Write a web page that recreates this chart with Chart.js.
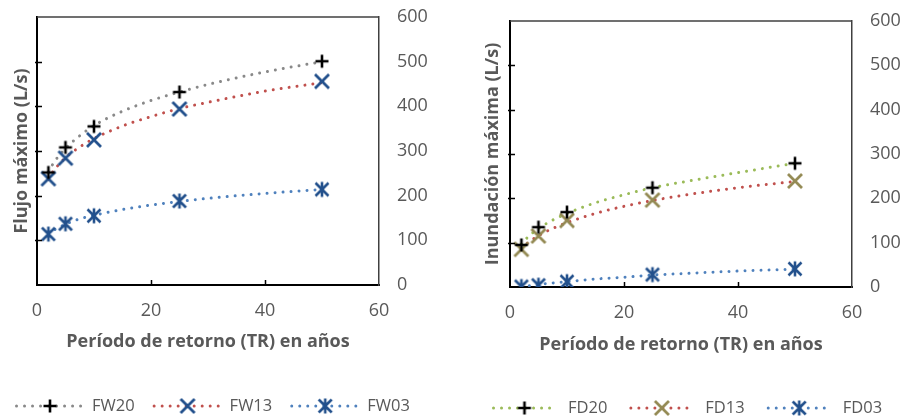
<!DOCTYPE html>
<html>
<head>
<meta charset="utf-8">
<script src="https://cdn.jsdelivr.net/npm/chart.js@4.4.1/dist/chart.umd.min.js"></script>
<style>
html, body { margin: 0; padding: 0; background: #fff; }
#wrap { position: relative; width: 901px; height: 419px; }
.box { position: absolute; top: 0; height: 419px; }
</style>
</head>
<body>
<div id="wrap">
  <div class="box" style="left:0;width:450px"><canvas id="flujo" width="450" height="419"></canvas></div>
  <div class="box" style="left:450px;width:451px"><canvas id="inundacion" width="451" height="419"></canvas></div>
</div>
<script>
const returnPeriods = [2, 5, 10, 25, 50];
const fw20 = [252, 308, 355, 432, 501];
const fw13 = [238, 284, 325, 394, 456];
const fw03 = [114, 137, 155, 188, 214];
const fd20 = [95, 135, 169, 224, 279];
const fd13 = [85, 115, 150, 196, 239];
const fd03 = [1, 4, 12, 28, 41];

// dotted trend curves
const trendX = [2, 3, 5, 7.5, 10, 15, 20, 25, 30, 40, 50];
const fw20Trend = [253, 275, 306, 334, 357, 389, 413, 432, 449, 477, 500];
const fw13Trend = [237, 257, 285, 309, 328, 356, 377, 395, 409, 434, 453];
const fw03Trend = [114, 123, 136, 148, 156, 169, 179, 187, 194, 205, 214];
const fd20Trend = [97, 111, 132, 151, 166, 190, 208, 224, 236, 258, 279];
const fd13Trend = [86, 98, 116, 132, 145, 166, 182, 195, 206, 224, 238];
const fd03Trend = [0, 2, 6, 9, 12, 18, 22, 27, 30, 36, 40];

const xTickLabels = [0, 20, 40, 60];
const yTickLabels = [0, 100, 200, 300, 400, 500, 600];

const xTitle = "Período de retorno (TR) en años";

const TXT = "#595959";
Chart.defaults.font.family = "'Open Sans', sans-serif";

function pts(xs, ys) {
    return xs.map((x, i) => ({ x: x, y: ys[i] }));
}

// marker glyphs drawn once onto small canvases
function marker(kind, color) {
    const c = document.createElement("canvas");
    c.width = 18; c.height = 18;
    const g = c.getContext("2d");
    g.strokeStyle = color;
    g.lineCap = "butt";
    g.beginPath();
    if (kind === "plus") {
        g.lineWidth = 2.6;
        g.moveTo(2.5, 9); g.lineTo(15.5, 9);
        g.moveTo(9, 2.5); g.lineTo(9, 15.5);
    } else if (kind === "x") {
        g.lineWidth = 2.8;
        g.moveTo(2, 2); g.lineTo(16, 16);
        g.moveTo(16, 2); g.lineTo(2, 16);
    } else {
        g.lineWidth = 2.6;
        g.moveTo(2.5, 2.5); g.lineTo(15.5, 15.5);
        g.moveTo(15.5, 2.5); g.lineTo(2.5, 15.5);
        g.moveTo(9, 1.5); g.lineTo(9, 16.5);
    }
    g.stroke();
    return c;
}

function markerSet(label, ys, glyph, trendColor) {
    return {
        label: label,
        data: pts(returnPeriods, ys),
        showLine: false,
        pointStyle: glyph,
        pointRadius: 8,
        pointHoverRadius: 8,
        trendColor: trendColor,
        order: 0
    };
}

function trendSet(ys, color) {
    return {
        label: "",
        data: pts(trendX, ys),
        showLine: true,
        borderColor: color,
        borderWidth: 3,
        borderDash: [0.01, 8],
        borderCapStyle: "round",
        cubicInterpolationMode: "monotone",
        pointRadius: 0,
        isTrend: true,
        order: 1
    };
}

// top border and the short inward tick marks
const framePlugin = {
    id: "frame",
    afterDraw(chart) {
        const { ctx, chartArea: a } = chart;
        const xs = chart.scales.x, ys = chart.scales.y;
        ctx.save();
        ctx.strokeStyle = "#404040";
        ctx.lineWidth = 1.5;
        ctx.beginPath();
        ctx.moveTo(a.left, a.top);
        ctx.lineTo(a.right, a.top);
        ctx.stroke();
        ctx.strokeStyle = "#000";
        ctx.lineWidth = 1.5;
        ctx.beginPath();
        ys.ticks.forEach(t => {
            if (t.value <= ys.min || t.value >= ys.max) return;
            const y = Math.round(ys.getPixelForValue(t.value)) + 0.5;
            ctx.moveTo(a.left - 2, y);
            ctx.lineTo(a.left + 5, y);
        });
        xs.ticks.forEach(t => {
            if (t.value <= xs.min || t.value >= xs.max) return;
            const x = Math.round(xs.getPixelForValue(t.value)) + 0.5;
            ctx.moveTo(x, a.bottom + 1);
            ctx.lineTo(x, a.bottom - 5);
        });
        ctx.stroke();
        ctx.restore();
    }
};

// legend row: dotted trend line with the marker in the middle, then the name
const legendRowPlugin = {
    id: "legendRow",
    afterDraw(chart, args, opts) {
        const ctx = chart.ctx;
        let x = opts.x;
        const y = opts.y;
        ctx.save();
        ctx.font = "16.5px 'Open Sans', sans-serif";
        ctx.textBaseline = "middle";
        ctx.fillStyle = TXT;
        chart.data.datasets.forEach(ds => {
            if (ds.isTrend) return;
            ctx.strokeStyle = ds.trendColor;
            ctx.lineWidth = 3;
            ctx.lineCap = "round";
            ctx.setLineDash([0.01, 8]);
            ctx.beginPath();
            ctx.moveTo(x + 1.5, y);
            ctx.lineTo(x + opts.line, y);
            ctx.stroke();
            ctx.setLineDash([]);
            const g = ds.pointStyle;
            ctx.drawImage(g, x + opts.line / 2 - g.width / 2, y - g.height / 2);
            const tx = x + opts.line + opts.textGap;
            ctx.fillText(ds.label, tx, y);
            x = tx + ctx.measureText(ds.label).width + opts.itemGap;
        });
        ctx.restore();
    }
};

function buildChart(id, yTitle, sets, box) {
    return new Chart(document.getElementById(id), {
        type: "scatter",
        data: { datasets: sets },
        plugins: [framePlugin, legendRowPlugin],
        options: {
            responsive: false,
            animation: false,
            layout: { padding: { top: box.top, left: 0, right: 0, bottom: 0 } },
            scales: {
                x: {
                    type: "linear",
                    min: xTickLabels[0],
                    max: xTickLabels[xTickLabels.length - 1],
                    afterBuildTicks: s => { s.ticks = xTickLabels.map(v => ({ value: v })); },
                    ticks: { color: TXT, font: { size: 18 }, padding: box.xTickPad, maxRotation: 0 },
                    grid: { drawOnChartArea: false, drawTicks: false },
                    border: { color: "#000", width: 2 },
                    title: {
                        display: true,
                        text: xTitle,
                        color: TXT,
                        font: { size: 18, weight: "bold" },
                        padding: { top: 0, bottom: box.xTitlePad }
                    },
                    afterFit: s => { s.height = box.bottomH; }
                },
                y: {
                    position: "left",
                    min: 0,
                    max: 600,
                    afterBuildTicks: s => { s.ticks = yTickLabels.map(v => ({ value: v })); },
                    ticks: { display: false },
                    grid: { drawOnChartArea: false, drawTicks: false },
                    border: { color: "#000", width: 2 },
                    title: {
                        display: true,
                        text: yTitle,
                        color: TXT,
                        font: { size: 18, weight: "bold" },
                        padding: { top: box.yTitlePad, bottom: 0 }
                    },
                    afterFit: s => { s.width = box.leftW; }
                },
                y2: {
                    position: "right",
                    min: 0,
                    max: 600,
                    afterBuildTicks: s => { s.ticks = yTickLabels.map(v => ({ value: v })); },
                    ticks: { color: TXT, font: { size: 18 }, padding: 0 },
                    grid: {
                        drawOnChartArea: false,
                        drawTicks: true,
                        tickLength: box.yTickGap,
                        tickColor: "rgba(0,0,0,0)"
                    },
                    border: { color: "#404040", width: 1.5 },
                    afterFit: s => { s.width = box.rightW; }
                }
            },
            plugins: {
                legend: { display: false },
                tooltip: { enabled: false },
                legendRow: box.legend
            }
        }
    });
}

buildChart("flujo", "Flujo máximo (L/s)", [
    markerSet("FW20", fw20, marker("plus", "#000"), "#898989"),
    markerSet("FW13", fw13, marker("x", "#22508C"), "#C0504D"),
    markerSet("FW03", fw03, marker("star", "#22508C"), "#4F81BD"),
    trendSet(fw20Trend, "#898989"),
    trendSet(fw13Trend, "#C0504D"),
    trendSet(fw03Trend, "#4F81BD")
], {
    top: 17, leftW: 37, rightW: 71, bottomH: 134,
    xTickPad: 15, xTitlePad: 66, yTitlePad: 11, yTickGap: 18,
    legend: { x: 15, y: 406, line: 70, textGap: 7, itemGap: 18 }
});

buildChart("inundacion", "Inundación máxima (L/s)", [
    markerSet("FD20", fd20, marker("plus", "#000"), "#9BBB59"),
    markerSet("FD13", fd13, marker("x", "#948A54"), "#C0504D"),
    markerSet("FD03", fd03, marker("star", "#22508C"), "#4F81BD"),
    trendSet(fd20Trend, "#9BBB59"),
    trendSet(fd13Trend, "#C0504D"),
    trendSet(fd03Trend, "#4F81BD")
], {
    top: 21, leftW: 60, rightW: 49, bottomH: 132,
    xTickPad: 15, xTitlePad: 63, yTitlePad: 32, yTickGap: 18,
    legend: { x: 42, y: 408, line: 65, textGap: 11, itemGap: 22 }
});
</script>
</body>
</html>
